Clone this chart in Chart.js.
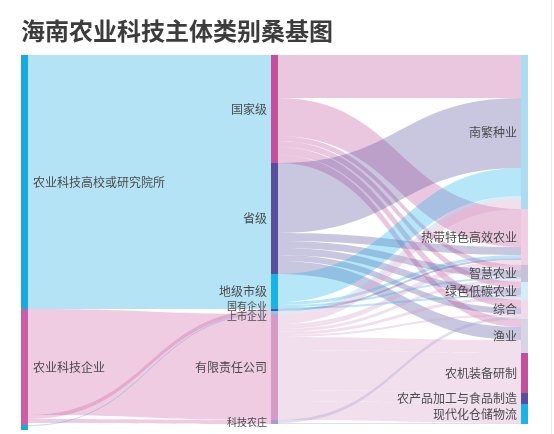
<!DOCTYPE html>
<html>
<head>
<meta charset="utf-8">
<script src="https://cdn.jsdelivr.net/npm/chart.js@4.4.1/dist/chart.umd.min.js"></script>
<style>
html,body{margin:0;padding:0;background:#fff;}
#wrap{position:relative;width:554px;height:434px;overflow:hidden;}
#edge{position:absolute;left:551px;top:0;width:1px;height:434px;background:#ececec;}
</style>
</head>
<body>
<div id="wrap"><canvas id="c" width="554" height="434"></canvas><div id="edge"></div></div>
<script>
// ---- data ----
const titleText = '海南农业科技主体类别桑基图';
const nodeNames = [
  '农业科技高校或研究院所', '农业科技企业', '',
  '国家级', '省级', '地级市级', '国有企业', '上市企业', '有限责任公司', '科技农庄',
  '南繁种业', '热带特色高效农业', '智慧农业', '绿色低碳农业', '综合', '渔业',
  '农机装备研制', '农产品加工与食品制造', '现代化仓储物流'
];
const nodeLevels = [0,0,0, 1,1,1,1,1,1,1, 2,2,2,2,2,2,2,2,2];
const nodeValues = [254,116,5, 108,111,35,2,3,106,4, 154,56,17,18,19,34,40,11,20];

const linkSources = [
  '农业科技高校或研究院所','农业科技高校或研究院所','农业科技高校或研究院所',
  '农业科技企业','农业科技企业','农业科技企业','农业科技企业',
  '',
  '国家级','国家级','国家级','国家级','国家级','国家级',
  '省级','省级','省级','省级','省级','省级',
  '地级市级','地级市级','地级市级','地级市级',
  '国有企业',
  '上市企业',
  '有限责任公司','有限责任公司','有限责任公司','有限责任公司','有限责任公司','有限责任公司','有限责任公司','有限责任公司','有限责任公司',
  '科技农庄','科技农庄'
];
const linkTargets = [
  '国家级','省级','地级市级',
  '有限责任公司','国有企业','上市企业','科技农庄',
  '上市企业',
  '南繁种业','热带特色高效农业','智慧农业','绿色低碳农业','综合','渔业',
  '南繁种业','热带特色高效农业','智慧农业','绿色低碳农业','综合','渔业',
  '南繁种业','热带特色高效农业','智慧农业','绿色低碳农业',
  '热带特色高效农业',
  '南繁种业',
  '南繁种业','热带特色高效农业','智慧农业','绿色低碳农业','综合','渔业','农机装备研制','农产品加工与食品制造','现代化仓储物流',
  '综合','现代化仓储物流'
];
const linkValues = [
  108,111,35,
  106,2,2,4,
  1,
  43,38,5,6,8,8,
  70,8,7,7,6,13,
  28,3,2,2,
  2,
  3,
  10,5,3,3,2,13,40,11,19,
  3,1
];

// ---- styles ----
const nodeColors = [
  '#18a8e2','#cc5fa3','#18a8e2',
  '#c2509a','#574ea0','#1ab3e8','#574ea0','#7dcdee','#d49bc7','#a29dc9',
  '#acdcf1','#f0cfe4','#c7c2dc','#d3eef9','#f1dbeb','#d7d4e8','#c2509a','#574ea0','#1ab3e8'
];
const FONT = '"Noto Sans CJK SC","Noto Sans",sans-serif';
const NODE_W = 7;
const LINK_ALPHA = 0.32;

function hexA(hex, a){
  const v = parseInt(hex.slice(1),16);
  return `rgba(${(v>>16)&255},${(v>>8)&255},${v&255},${a})`;
}

const sankeyPlugin = {
  id: 'sankeyDraw',
  beforeDatasetsDraw(chart){
    const {ctx, scales:{x, y}} = chart;
    const n = nodeNames.length;
    const idx = name => nodeNames.indexOf(name);
    const inSum = new Array(n).fill(0), outSum = new Array(n).fill(0);
    const S = linkSources.map(idx), T = linkTargets.map(idx);
    linkValues.forEach((v,k)=>{ outSum[S[k]] += v; inSum[T[k]] += v; });
    const size = nodeValues.map((v,i)=>Math.max(v, inSum[i], outSum[i]));
    const maxLevel = Math.max(...nodeLevels);
    const top = [], colCum = {};
    for (let i=0;i<n;i++){
      const l = nodeLevels[i];
      const c = colCum[l] || 0;
      top[i] = c; colCum[l] = c + size[i];
    }
    const nodeX = i => {
      const l = nodeLevels[i], p = x.getPixelForValue(l);
      return l === 0 ? p : (l === maxLevel ? p - NODE_W : p - NODE_W/2);
    };
    // links
    const outOff = top.slice(), inOff = top.slice();
    ctx.save();
    linkValues.forEach((v,k)=>{
      const s = S[k], t = T[k];
      const sy0 = y.getPixelForValue(outOff[s]), sy1 = y.getPixelForValue(outOff[s]+v);
      const ty0 = y.getPixelForValue(inOff[t]), ty1 = y.getPixelForValue(inOff[t]+v);
      outOff[s] += v; inOff[t] += v;
      const xa = nodeX(s) + NODE_W, xb = nodeX(t), xm = (xa+xb)/2;
      ctx.beginPath();
      ctx.moveTo(xa, sy0);
      ctx.bezierCurveTo(xm, sy0, xm, ty0, xb, ty0);
      ctx.lineTo(xb, ty1);
      ctx.bezierCurveTo(xm, ty1, xm, sy1, xa, sy1);
      ctx.closePath();
      ctx.fillStyle = hexA(nodeColors[s], LINK_ALPHA);
      ctx.fill();
    });
    // nodes
    for (let i=0;i<n;i++){
      const y0 = y.getPixelForValue(top[i]), y1 = y.getPixelForValue(top[i]+size[i]);
      ctx.fillStyle = nodeColors[i];
      ctx.fillRect(nodeX(i), y0, NODE_W, y1 - y0);
    }
    // labels
    const labels = [];
    for (let i=0;i<n;i++){
      if (!nodeNames[i]) continue;
      const y0 = y.getPixelForValue(top[i]), y1 = y.getPixelForValue(top[i]+size[i]);
      const h = y1 - y0;
      labels.push({i, cy:(y0+y1)/2, fs: h < 8 ? 10 : 12, l: nodeLevels[i]});
    }
    for (let l=0;l<=maxLevel;l++){
      const col = labels.filter(o=>o.l===l).sort((a,b)=>a.cy-b.cy);
      for (let j=1;j<col.length;j++){
        const sep = (col[j].fs + col[j-1].fs)/2;
        const d = col[j].cy - col[j-1].cy;
        if (d < sep){ const sh = (sep-d)/2; col[j-1].cy -= sh; col[j].cy += sh; }
      }
    }
    ctx.textBaseline = 'middle';
    labels.forEach(o=>{
      ctx.font = `${o.fs}px ${FONT}`;
      ctx.fillStyle = '#4a4a4a';
      if (o.l === 0){
        ctx.textAlign = 'left';
        ctx.fillText(nodeNames[o.i], nodeX(o.i) + NODE_W + 5, o.cy);
      } else {
        ctx.textAlign = 'right';
        ctx.fillText(nodeNames[o.i], nodeX(o.i) - 4, o.cy);
      }
    });
    ctx.restore();
  }
};

const totalMax = Math.max(...[0,1,2].map(l=>nodeValues.filter((v,i)=>nodeLevels[i]===l).reduce((a,b)=>a+b,0)));

new Chart(document.getElementById('c'), {
  type: 'scatter',
  data: { datasets: [{ data: [], pointRadius: 0 }] },
  options: {
    responsive: false,
    animation: false,
    layout: { padding: { left: 21, right: 26, top: 0, bottom: 4 } },
    plugins: {
      legend: { display: false },
      tooltip: { enabled: false },
      title: {
        display: true, text: titleText, align: 'start', color: '#3c3c3c',
        font: { size: 24, weight: 'bold', family: FONT, lineHeight: 1.2 },
        padding: { top: 16, bottom: 10.2 }
      }
    },
    scales: {
      x: { type: 'linear', min: 0, max: 2, display: false },
      y: { type: 'linear', min: 0, max: totalMax, reverse: true, display: false }
    }
  },
  plugins: [sankeyPlugin]
});
</script>
</body>
</html>
